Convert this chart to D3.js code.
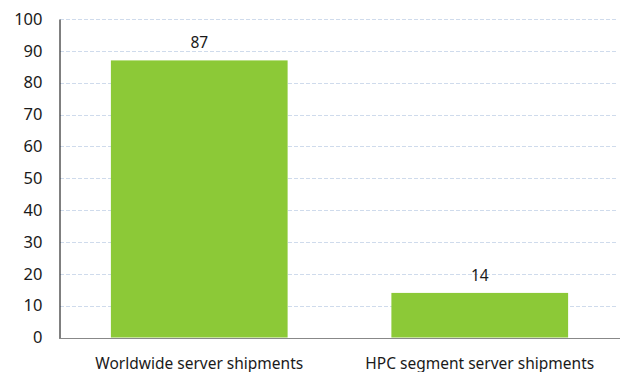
<!DOCTYPE html>
<html><head><meta charset="utf-8">
<script src="https://cdn.jsdelivr.net/npm/d3@7/dist/d3.min.js"></script>
<style>body{margin:0;background:#fff}svg{display:block}text{font-family:"Noto Sans",sans-serif;fill:#1a1a1a}</style>
</head><body><svg id="c" width="620" height="372"></svg>
<script>
const categories = ["Worldwide server shipments", "HPC segment server shipments"];
const values = [87, 14];
const yTicks = [0,10,20,30,40,50,60,70,80,90,100];

const svg = d3.select("#c");
const m = {l:59, r:0, t:19, b:34.5};
const W = 620, H = 372;
const FONT = '"Noto Sans",sans-serif';
const x = d3.scaleBand().domain(categories).range([m.l, W - m.r]).paddingInner(0.37).paddingOuter(0.185);
const y = d3.scaleLinear().domain([0,100]).range([H - m.b, m.t]);

// gridlines
svg.append("g").selectAll("line").data(yTicks.filter(d=>d>0)).join("line")
  .attr("x1", m.l+1).attr("x2", W-2)
  .attr("y1", d=>Math.round(y(d))+0.5).attr("y2", d=>Math.round(y(d))+0.5)
  .attr("stroke", "#cfdbec").attr("stroke-dasharray", "4,2").attr("stroke-width", 1);

// bars
svg.append("g").selectAll("rect").data(values).join("rect")
  .attr("x", (d,i)=>x(categories[i])).attr("width", x.bandwidth())
  .attr("y", d=>y(d)).attr("height", d=>y(0)-y(d))
  .attr("fill", "#8cc937");

// value labels
svg.append("g").selectAll("text").data(values).join("text")
  .attr("x", (d,i)=>x(categories[i]) + x.bandwidth()/2)
  .attr("y", d=>y(d) - 12)
  .attr("text-anchor", "middle").attr("font-size", 15.5).style("font-family", FONT)
  .text(d=>d);

// y axis
const ya = d3.axisLeft(y).tickValues(yTicks).tickSize(0).tickPadding(17);
const gy = svg.append("g").attr("transform", `translate(${m.l+0.5},0)`).call(ya);
gy.select(".domain").attr("stroke", "#000");
gy.selectAll("text").attr("font-size", 16.5).style("font-family", FONT).attr("fill", "#1a1a1a");

// x axis
const xa = d3.axisBottom(x).tickSize(0);
const gx = svg.append("g").attr("transform", `translate(0,${Math.round(y(0))+0.5})`).call(xa);
gx.select(".domain").attr("stroke", "#888").attr("d", `M${m.l},0H${W}`);
gx.selectAll("text").attr("font-size", 15.5).style("font-family", FONT).attr("fill", "#1a1a1a")
  .attr("y", 30).attr("dy", null);
</script></body></html>
